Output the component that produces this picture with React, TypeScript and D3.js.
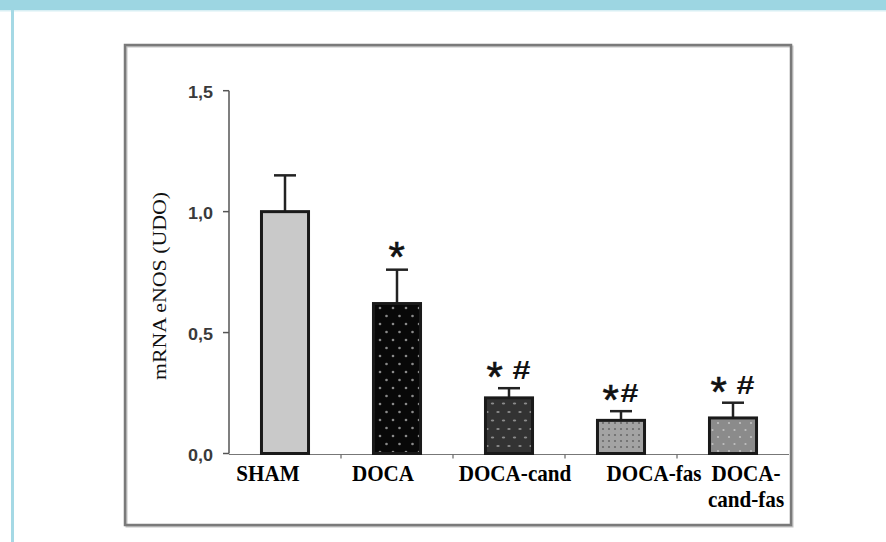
import React, { useEffect, useRef } from 'react';
import * as d3 from 'd3';

const categories = ['SHAM', 'DOCA', 'DOCA-cand', 'DOCA-fas', 'DOCA-cand-fas'];
const labelLines = [['SHAM'], ['DOCA'], ['DOCA-cand'], ['DOCA-fas'], ['DOCA-', 'cand-fas']];
const means = [1.0, 0.62, 0.23, 0.137, 0.147];
const sems = [0.15, 0.14, 0.04, 0.038, 0.063];
const marks = ['', '*', '* #', '*#', '* #'];
const yTicks = [0, 0.5, 1.0, 1.5];
const yTickLabels = ['0,0', '0,5', '1,0', '1,5'];
const yTitle = 'mRNA eNOS (UDO)';

// label placement in the original is a bit off-centre
const labelDx = [-17, -14, 6, 33, 13];
const fills = ['#c9c9c9', 'url(#pDoca)', 'url(#pCand)', 'url(#pFas)', 'url(#pCandFas)'];

const width = 886;
const height = 542;
const margin = { left: 229, right: 97, top: 90.7, bottom: 88.5 };

export default function App() {
    const chartArea = useRef<SVGGElement>(null);

    useEffect(() => {
        const x = d3.scaleBand<string>()
            .domain(categories)
            .range([margin.left, width - margin.right])
            .paddingInner(0.58)
            .paddingOuter(0.29);
        const y = d3.scaleLinear()
            .domain([0, 1.5])
            .range([height - margin.bottom, margin.top]);

        const g = d3.select(chartArea.current);
        g.selectAll('*').remove();

        const step = x.step();
        const x0 = y(0);
        const cx = (d: string) => (x(d) as number) + x.bandwidth() / 2;

        // y axis
        g.append('line')
            .attr('x1', margin.left).attr('x2', margin.left)
            .attr('y1', y(1.5)).attr('y2', x0)
            .attr('stroke', '#555').attr('stroke-width', 1.5);
        g.selectAll('.ytick').data(yTicks).enter().append('line')
            .attr('x1', margin.left - 6).attr('x2', margin.left)
            .attr('y1', (d) => y(d)).attr('y2', (d) => y(d))
            .attr('stroke', '#555').attr('stroke-width', 1.5);
        g.selectAll('.ylab').data(yTicks).enter().append('text')
            .attr('x', margin.left - 16)
            .attr('y', (d) => y(d) + 7)
            .attr('text-anchor', 'end')
            .attr('font-family', 'Liberation Sans, Arial, sans-serif')
            .attr('font-weight', 'bold')
            .attr('font-size', 16)
            .attr('textLength', 25)
            .attr('lengthAdjust', 'spacingAndGlyphs')
            .attr('fill', '#3a3a3a')
            .text((d, i) => yTickLabels[i]);

        // x axis
        g.append('line')
            .attr('x1', margin.left).attr('x2', width - margin.right)
            .attr('y1', x0 + 1).attr('y2', x0 + 1)
            .attr('stroke', '#777').attr('stroke-width', 1.2);
        const bounds = categories.slice(1).map((c) => (x(c) as number) - step * 0.29);
        g.selectAll('.xtick').data(bounds).enter().append('line')
            .attr('x1', (d) => d).attr('x2', (d) => d)
            .attr('y1', x0 + 1).attr('y2', x0 + 5)
            .attr('stroke', '#666').attr('stroke-width', 1.2);

        // error bars
        const err = g.selectAll('.err').data(categories).enter().append('g');
        err.append('line')
            .attr('x1', cx).attr('x2', cx)
            .attr('y1', (d, i) => y(means[i]))
            .attr('y2', (d, i) => y(means[i] + sems[i]))
            .attr('stroke', '#222').attr('stroke-width', 2.5);
        err.append('line')
            .attr('x1', (d) => cx(d) - 11)
            .attr('x2', (d) => cx(d) + 11)
            .attr('y1', (d, i) => y(means[i] + sems[i]))
            .attr('y2', (d, i) => y(means[i] + sems[i]))
            .attr('stroke', '#222').attr('stroke-width', 2.5);

        // bars
        g.selectAll('.bar').data(categories).enter().append('rect')
            .attr('x', (d) => x(d) as number)
            .attr('y', (d, i) => y(means[i]))
            .attr('width', x.bandwidth())
            .attr('height', (d, i) => x0 - y(means[i]))
            .attr('fill', (d, i) => fills[i])
            .attr('stroke', '#1a1a1a')
            .attr('stroke-width', 3);

        // significance marks: star plus a wide hash
        categories.forEach((d, i) => {
            const m = marks[i];
            if (!m) return;
            const cap = y(means[i] + sems[i]);
            const hasHash = m.includes('#');
            const gap = m.includes(' ');
            const w = hasHash ? (gap ? 43 : 35) : 15;
            const left = cx(d) - w / 2;
            g.append('text')
                .attr('x', left - 1)
                .attr('y', cap + (hasHash ? 3 : 1))
                .attr('font-family', 'Liberation Sans, Arial, sans-serif')
                .attr('font-size', 42)
                .attr('stroke', '#111')
                .attr('stroke-width', 0.6)
                .attr('fill', '#111')
                .text('*');
            if (hasHash) {
                g.append('text')
                    .attr('x', left + (gap ? 25 : 17))
                    .attr('y', cap - 9)
                    .attr('font-family', 'Liberation Sans, Arial, sans-serif')
                    .attr('font-weight', 'bold')
                    .attr('font-size', 25)
                    .attr('textLength', 18)
                    .attr('lengthAdjust', 'spacingAndGlyphs')
                    .attr('fill', '#111')
                    .text('#');
            }
        });

        // category labels
        const lab = g.selectAll('.xlab').data(categories).enter().append('g')
            .attr('transform', (d, i) => `translate(${cx(d) + labelDx[i]}, ${x0 + 27.5}) scale(0.88, 1)`);
        lab.each(function (d, i) {
            labelLines[i].forEach((line, j) => {
                d3.select(this).append('text')
                    .attr('y', j * 26)
                    .attr('text-anchor', 'middle')
                    .attr('font-family', 'Liberation Serif, Times New Roman, serif')
                    .attr('font-weight', 'bold')
                    .attr('font-size', 24)
                    .attr('fill', '#000')
                    .text(line);
            });
        });

        // y title
        g.append('text')
            .attr('transform', `translate(166, 286) rotate(-90)`)
            .attr('text-anchor', 'middle')
            .attr('font-family', 'Liberation Serif, Times New Roman, serif')
            .attr('font-size', 18)
            .attr('textLength', 188)
            .attr('lengthAdjust', 'spacingAndGlyphs')
            .attr('fill', '#111')
            .text(yTitle);
    }, []);

    return (
        <svg width={width} height={height} style={{ position: 'absolute', left: 0, top: 0, background: '#fff' }}>
            <defs>
                <pattern id="pDoca" patternUnits="userSpaceOnUse" width="13" height="16">
                    <rect width="13" height="16" fill="#080808" />
                    <circle cx="3" cy="4" r="1.3" fill="#8a8a8a" />
                    <circle cx="9.5" cy="12" r="1.3" fill="#8a8a8a" />
                </pattern>
                <pattern id="pCand" patternUnits="userSpaceOnUse" width="11" height="17">
                    <rect width="11" height="17" fill="#333" />
                    <ellipse cx="3" cy="4" rx="1.7" ry="1" fill="#8c8c8c" />
                    <ellipse cx="8.5" cy="12.5" rx="1.7" ry="1" fill="#8c8c8c" />
                </pattern>
                <pattern id="pFas" patternUnits="userSpaceOnUse" width="6" height="6">
                    <rect width="6" height="6" fill="#a3a3a3" />
                    <circle cx="3" cy="3" r="1.1" fill="#6a6a6a" />
                </pattern>
                <pattern id="pCandFas" patternUnits="userSpaceOnUse" width="11" height="14">
                    <rect width="11" height="14" fill="#8b8b8b" />
                    <circle cx="3" cy="3" r="1.1" fill="#c0c0c0" />
                    <circle cx="8.5" cy="10" r="1.1" fill="#c0c0c0" />
                </pattern>
            </defs>
            <rect x={0} y={0} width={width} height={10} fill="#9dd6e2" />
            <rect x={0} y={10} width={width} height={1.5} fill="#d8eff4" />
            <rect x={11} y={10} width={3} height={height - 10} fill="#a5d9e5" />
            <rect x={126.5} y={46.5} width={666} height={480} fill="none" stroke="#c4c4c4" strokeWidth={2} />
            <rect x={125} y={45} width={666} height={480} fill="none" stroke="#7a7a7a" strokeWidth={2.5} />
            <g ref={chartArea} />
        </svg>
    );
}
